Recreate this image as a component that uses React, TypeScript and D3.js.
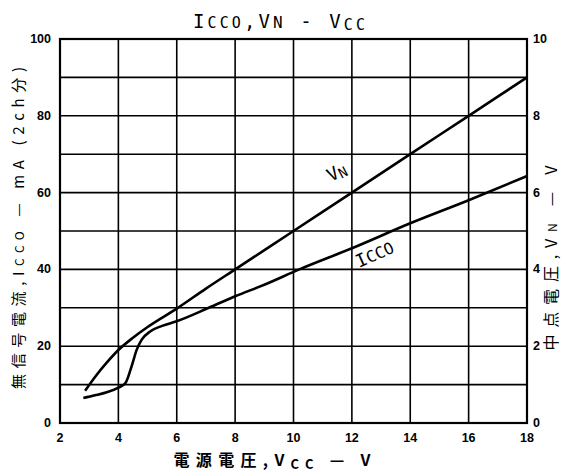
import React from "react";
import * as d3 from "d3";

const xTicks = [2, 4, 6, 8, 10, 12, 14, 16, 18];
const yLeftTicks = [0, 20, 40, 60, 80, 100];
const yRightTicks = [0, 2, 4, 6, 8, 10];
const yGrid = [10, 20, 30, 40, 50, 60, 70, 80, 90];

const vnVcc = [2.86, 3.2, 3.6, 4.0, 4.5, 5.0, 6.0, 7.0, 8.0, 10.0, 12.0, 14.0, 16.0, 18.0];
const vnVolts = [0.84, 1.2, 1.57, 1.9, 2.22, 2.5, 2.98, 3.5, 4.0, 5.0, 6.0, 7.0, 8.0, 9.0];

const iccoVcc = [2.8, 3.2, 3.6, 4.0, 4.25, 4.45, 4.63, 4.8, 5.1, 5.5, 6.0, 7.1, 8.0, 9.0, 10.2, 12.0, 14.0, 16.0, 18.0];
const iccoMa = [6.5, 7.2, 8.0, 9.2, 10.5, 14.7, 19.1, 21.7, 23.9, 25.3, 26.5, 30.0, 33.0, 36.0, 40.0, 45.5, 52.0, 58.0, 64.3];

export default function App() {
  const L = 60, R = 527, T = 39, B = 423;
  const x = d3.scaleLinear().domain([2, 18]).range([L, R]);
  const yL = d3.scaleLinear().domain([0, 100]).range([B, T]);
  const yR = d3.scaleLinear().domain([0, 10]).range([B, T]);

  const vnLine = d3
    .line<number>()
    .x((_, i) => x(vnVcc[i]))
    .y((d) => yR(d))
    .curve(d3.curveMonotoneX)(vnVolts) as string;
  const iccoLine = d3
    .line<number>()
    .x((_, i) => x(iccoVcc[i]))
    .y((d) => yL(d))
    .curve(d3.curveMonotoneX)(iccoMa) as string;

  const tickFont = { fontFamily: "Liberation Sans, Arial, sans-serif", fontWeight: 700, fontSize: 12.5 };
  const cjk = "'Noto Sans CJK JP', 'Noto Sans', sans-serif";
  const mono = "'DejaVu Sans Mono', monospace";

  return (
    <svg width={569} height={472} style={{ position: "absolute", left: 0, top: 0, background: "#fff" }}>
      <rect x={0} y={0} width={569} height={472} fill="#fff" />
      {xTicks.slice(1, -1).map((t) => (
        <line key={"gx" + t} x1={x(t)} x2={x(t)} y1={T} y2={B} stroke="#000" strokeWidth={1.6} />
      ))}
      {yGrid.map((t) => (
        <line key={"gy" + t} x1={L} x2={R} y1={yL(t)} y2={yL(t)} stroke="#000" strokeWidth={1.6} />
      ))}
      <rect x={L} y={T} width={R - L} height={B - T} fill="none" stroke="#000" strokeWidth={2.2} />
      <path d={vnLine} fill="none" stroke="#000" strokeWidth={2.6} />
      <path d={iccoLine} fill="none" stroke="#000" strokeWidth={2.6} />

      {yLeftTicks.map((t) => (
        <text key={"yl" + t} x={L - 9} y={yL(t) + 4} textAnchor="end" {...tickFont}>
          {t}
        </text>
      ))}
      {yRightTicks.map((t) => (
        <text key={"yr" + t} x={R + 6} y={yR(t) + 4} textAnchor="start" {...tickFont}>
          {t}
        </text>
      ))}
      {xTicks.map((t) => (
        <text key={"xt" + t} x={x(t)} y={B + 19} textAnchor="middle" {...tickFont}>
          {t}
        </text>
      ))}

      <text x={279} y={28} textAnchor="middle" fontFamily={mono} fontSize={19} textLength={172} lengthAdjust="spacing">
        I<tspan fontSize={15}>CCO</tspan>,V<tspan fontSize={16}>N</tspan> - V<tspan fontSize={15} dy={2}>CC</tspan>
      </text>

      <text x={272} y={466} textAnchor="middle" fontFamily={cjk} fontSize={16} fontWeight={700} textLength={197} lengthAdjust="spacing">
        電源電圧,V<tspan fontSize={13} dy={3}>CC</tspan>
        <tspan dy={-3}> — V</tspan>
      </text>

      <text
        transform={`translate(24,228) rotate(-90)`}
        textAnchor="middle"
        fontFamily={cjk}
        fontSize={15}
        textLength={322}
        lengthAdjust="spacing"
      >
        無信号電流,I<tspan fontSize={12}>CCO</tspan> — mA (2ch分)
      </text>

      <text
        transform={`translate(557,258) rotate(-90)`}
        textAnchor="middle"
        fontFamily={cjk}
        fontSize={16}
        textLength={185}
        lengthAdjust="spacing"
      >
        中点電圧,V<tspan fontSize={12}>N</tspan> — V
      </text>

      <text transform={`translate(331,182) rotate(-28)`} fontFamily={mono} fontSize={18}>
        V<tspan fontSize={14} dy={2}>N</tspan>
      </text>
      <text transform={`translate(359,268) rotate(-24)`} fontFamily={mono} fontSize={18}>
        I<tspan fontSize={16}>CCO</tspan>
      </text>
    </svg>
  );
}
